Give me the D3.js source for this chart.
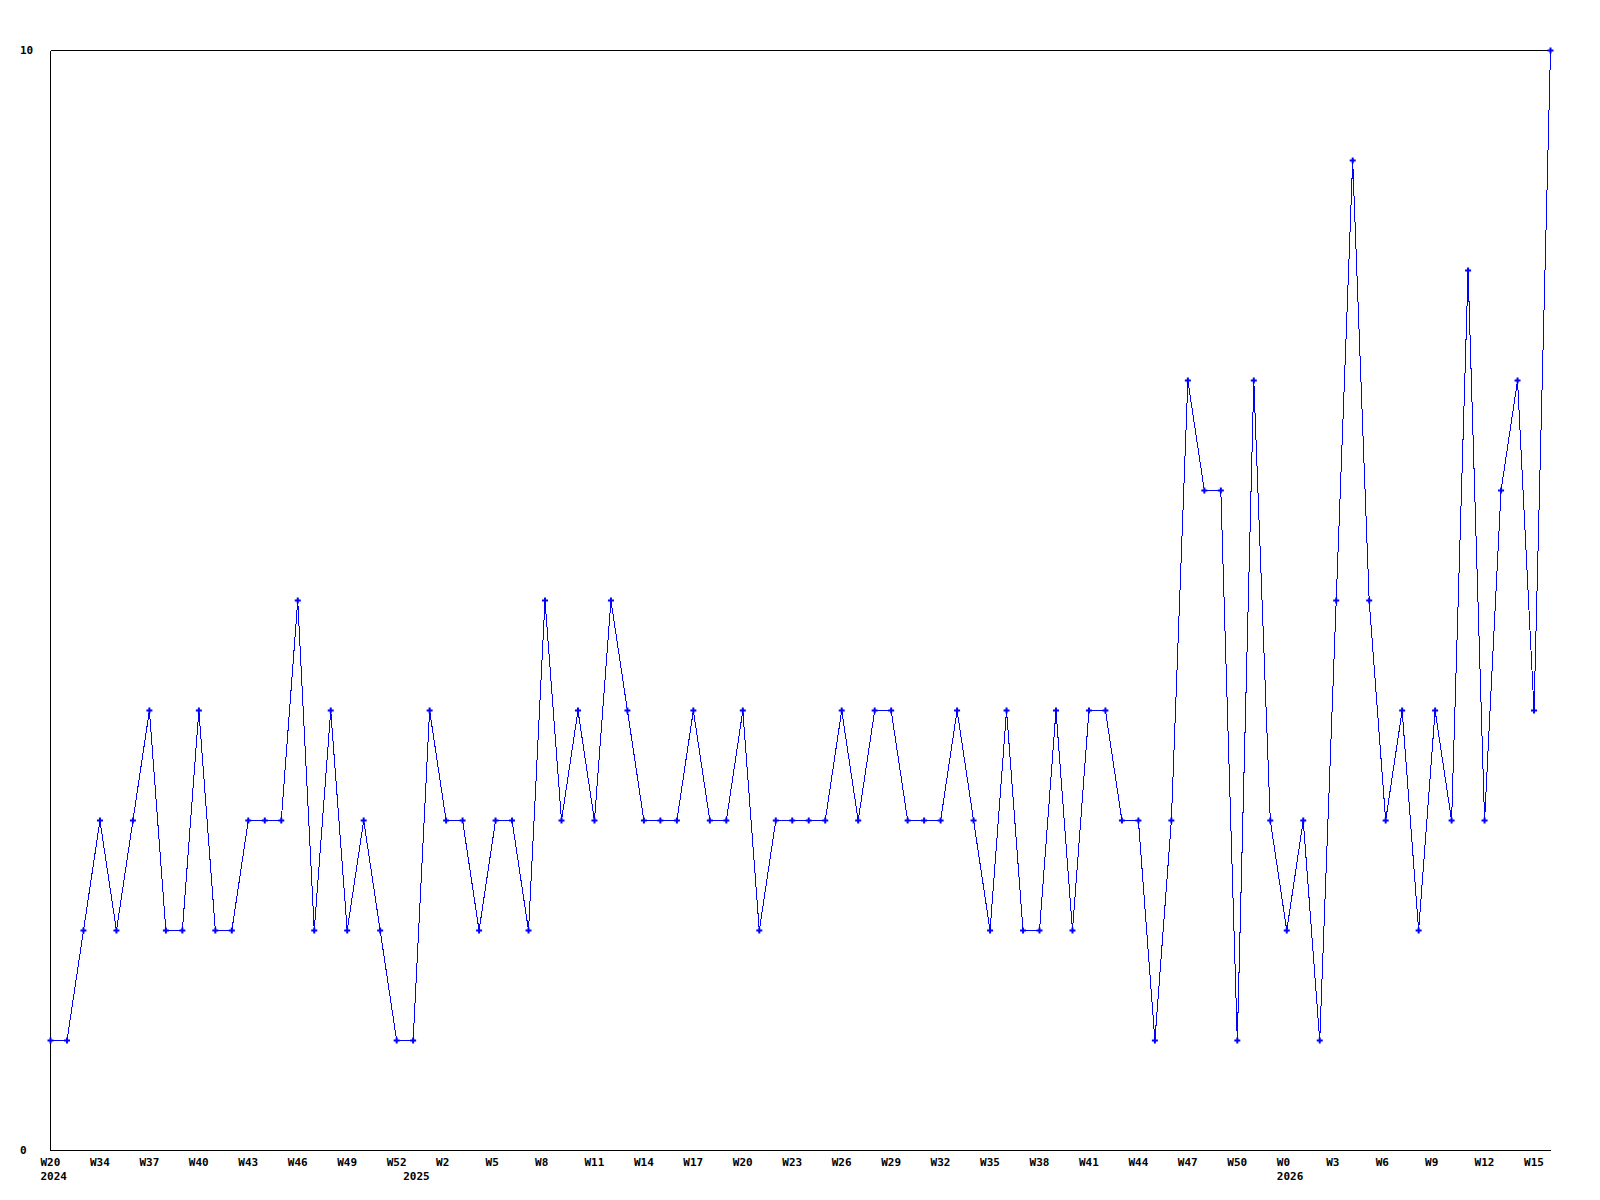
<!DOCTYPE html>
<html>
<head>
<meta charset="utf-8">
<script src="https://cdn.jsdelivr.net/npm/d3@7"></script>
<style>
  html, body { margin: 0; padding: 0; background: #ffffff; }
  svg { display: block; }
  text { font-family: "DejaVu Sans Mono", "Liberation Mono", monospace; font-weight: bold; font-size: 11px; fill: #000; }
</style>
</head>
<body>
<svg id="chart" width="1600" height="1200"></svg>
<script>
// Weekly values, from 2024 W31 to 2026 W16 (one per week)
const values = [
  1, 1, 2, 3, 2, 3, 4, 2, 2, 4, 2, 2, 3, 3, 3, 5, 2, 4, 2, 3, 2, 1,
  1, 4, 3, 3, 2, 3, 3, 2, 5, 3, 4, 3, 5, 4, 3, 3, 3, 4, 3, 3, 4, 2, 3, 3, 3,
  3, 4, 3, 4, 4, 3, 3, 3, 4, 3, 2, 4, 2, 2, 4, 2, 4, 4, 3, 3, 1, 3, 7, 6, 6, 1, 7, 3,
  2, 3, 1, 5, 9, 5, 3, 4, 2, 4, 3, 8, 3, 6, 7, 4, 10
];
// Week tick labels, every third week starting at the first point
const weekTickIndex = d3.range(0, 91, 3);
const weekTickLabels = [
  "W20", "W34", "W37", "W40", "W43", "W46", "W49", "W52",
  "W2", "W5", "W8", "W11", "W14", "W17", "W20", "W23", "W26", "W29", "W32",
  "W35", "W38", "W41", "W44", "W47", "W50",
  "W0", "W3", "W6", "W9", "W12", "W15"
];
// Year labels, placed at the first week of each year
const yearTickIndex = [0, 22, 75];
const yearTickLabels = ["2024", "2025", "2026"];
// Y axis labels
const yTickValues = [0, 10];
const yTickLabels = ["0", "10"];

(function () {
const pL = 50, pR = 1550, pT = 50, pB = 1150;
const svg = d3.select("#chart");

const x = d3.scaleLinear().domain([0, values.length - 1]).range([pL, pR]);
const y = d3.scaleLinear().domain([0, 10]).range([pB, pT]);

// Frame: left, top, bottom lines
const frame = svg.append("g").attr("shape-rendering", "crispEdges")
  .attr("stroke", "#000").attr("stroke-width", 1);
frame.append("line").attr("x1", pL + 0.5).attr("x2", pL + 0.5).attr("y1", pT + 0.5).attr("y2", pB + 0.5);
frame.append("line").attr("x1", pL + 0.5).attr("x2", pR + 0.5).attr("y1", pT + 0.5).attr("y2", pT + 0.5);
frame.append("line").attr("x1", pL + 0.5).attr("x2", pR + 0.5).attr("y1", pB + 0.5).attr("y2", pB + 0.5);

// X axis: week labels
const xAxis = d3.axisBottom(x)
  .tickValues(weekTickIndex)
  .tickFormat((d, i) => weekTickLabels[i])
  .tickSize(0).tickPadding(0);
const gx = svg.append("g").attr("transform", `translate(0,${pB})`).call(xAxis);
gx.select(".domain").remove();
gx.selectAll("text")
  .attr("text-anchor", "start").attr("dx", -10).attr("dy", null).attr("y", 16);

// X axis: year labels
const yearAxis = d3.axisBottom(x)
  .tickValues(yearTickIndex)
  .tickFormat((d, i) => yearTickLabels[i])
  .tickSize(0).tickPadding(0);
const gyear = svg.append("g").attr("transform", `translate(0,${pB})`).call(yearAxis);
gyear.select(".domain").remove();
gyear.selectAll("text")
  .attr("text-anchor", "start").attr("dx", -10).attr("dy", null).attr("y", 30);

// Y axis labels
const yAxis = d3.axisLeft(y)
  .tickValues(yTickValues)
  .tickFormat((d, i) => yTickLabels[i])
  .tickSize(0).tickPadding(0);
const gy = svg.append("g").call(yAxis);
gy.select(".domain").remove();
gy.selectAll("text")
  .attr("text-anchor", "start").attr("x", 20).attr("dy", null).attr("y", 3);

// Remove default axis font settings so CSS applies
svg.selectAll("g").attr("font-family", null).attr("font-size", null);

// Line
const line = d3.line().x((d, i) => x(i) + 0.5).y(d => y(d) + 0.5);
svg.append("path")
  .datum(values)
  .attr("d", line)
  .attr("fill", "none")
  .attr("stroke", "#0000ff")
  .attr("stroke-width", 1)
  .attr("shape-rendering", "crispEdges");

// Markers
svg.append("g").selectAll("path")
  .data(values)
  .join("path")
  .attr("transform", (d, i) => `translate(${x(i) + 0.5},${y(d) + 0.5})`)
  .attr("d", d3.symbol(d3.symbolCross, 20))
  .attr("fill", "#0000ff");
})();
</script>
</body>
</html>
